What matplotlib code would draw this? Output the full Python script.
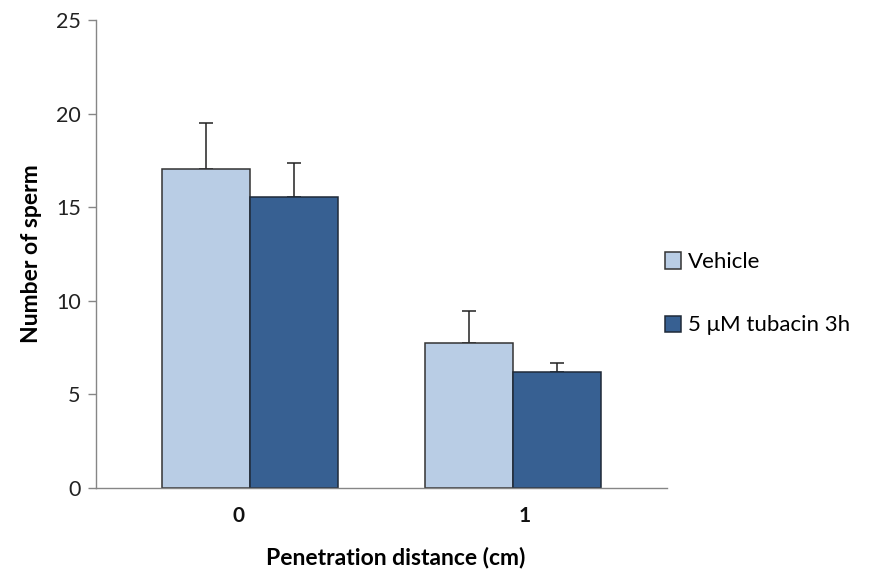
import numpy as np
import matplotlib
matplotlib.use("Agg")
import matplotlib.pyplot as plt

# data
distance = ['0', '1']
vehicle = [17.05, 7.75]
vehicle_err = [2.47, 1.71]
tubacin = [15.53, 6.18]
tubacin_err = [1.82, 0.48]

plt.rcParams['font.family'] = ['Lato', 'DejaVu Sans']

fig = plt.figure(figsize=(8.69, 5.75), dpi=100)
ax = fig.add_axes([0.1105, 0.1513, 0.657, 0.8139])

X = np.arange(len(distance))
w = 0.308
# groups sit slightly inward from the category centres in the original
shift = np.array([0.039, -0.039])

ax.bar(X + shift - w/2, vehicle, w, color='#B9CDE5', edgecolor='#333333',
       linewidth=1.1, label='Vehicle', zorder=2)
ax.bar(X + shift + w/2, tubacin, w, color='#376092', edgecolor='#1f2a38',
       linewidth=1.1, label='5 \u03bcM tubacin 3h', zorder=2)

ax.errorbar(X + shift - w/2, vehicle, yerr=[[0, 0], vehicle_err], fmt='none',
            ecolor='#222222', elinewidth=1.1, capsize=4.7, capthick=1.1, zorder=1)
ax.errorbar(X + shift + w/2, tubacin, yerr=[[0, 0], tubacin_err], fmt='none',
            ecolor='#222222', elinewidth=1.1, capsize=4.7, capthick=1.1, zorder=1)

ax.set_xlim(-0.5, 1.5)
ax.set_ylim(0, 25)
ax.set_yticks([0, 5, 10, 15, 20, 25])
ax.set_xticks(X)
ax.set_xticklabels(distance, fontweight='bold', fontsize=15)

for s in ['top', 'right']:
    ax.spines[s].set_visible(False)
ax.spines['left'].set_color('#868686')
ax.spines['bottom'].set_color('#868686')
ax.spines['left'].set_linewidth(1.0)
ax.spines['bottom'].set_linewidth(1.0)

ax.tick_params(axis='y', direction='out', length=6, width=1.0, color='#868686',
               labelsize=15.5, labelcolor='#222222', pad=5)
ax.tick_params(axis='x', length=0, pad=13, labelcolor='#111111')

# x label sits a little right of the axis centre in the original
ax.set_xlabel('Penetration distance (cm)', fontweight='bold', fontsize=16.5,
              labelpad=15, x=0.524)
ax.set_ylabel('Number of sperm', fontweight='bold', fontsize=16.5, labelpad=10)

fig.legend(loc='center left', bbox_to_anchor=(0.742, 0.489), frameon=False,
           fontsize=16, handlelength=0.75, handleheight=0.75, handletextpad=0.3,
           labelspacing=1.95)

plt.savefig('out.png', dpi=100)
